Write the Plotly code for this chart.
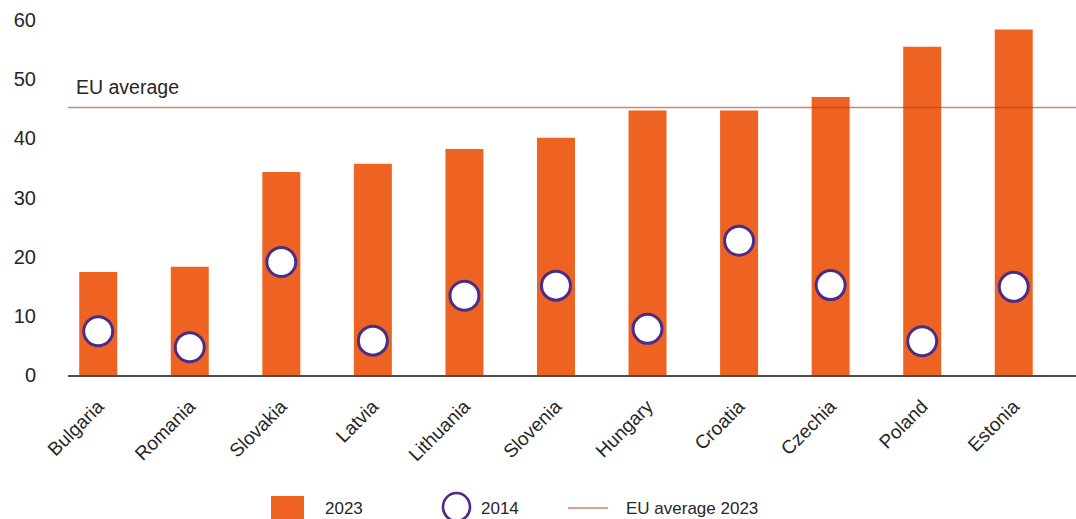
import plotly.graph_objects as go

# Country shares, 2023 (bars) and 2014 (circles)
countries = ["Bulgaria", "Romania", "Slovakia", "Latvia", "Lithuania", "Slovenia",
             "Hungary", "Croatia", "Czechia", "Poland", "Estonia"]
values_2023 = [17.4, 18.3, 34.3, 35.7, 38.2, 40.1, 44.7, 44.7, 47.0, 55.5, 58.4]
values_2014 = [7.4, 4.7, 19.1, 5.8, 13.4, 15.1, 7.8, 22.7, 15.2, 5.7, 14.9]
eu_avg_2023 = 45.2
y_ticks = [0, 10, 20, 30, 40, 50, 60]

ORANGE = "#EE6322"
PURPLE = "#4B2C86"
TEXT = "#262626"
FONT = "Liberation Sans, Arial, sans-serif"

W, H = 1076, 519
ML, MR, MT, MB = 68, 0, 20, 144
PW, PH = W - ML - MR, H - MT - MB


def px_x(px):
    return (px - ML) / PW


def px_y(py):
    return (H - MB - py) / PH


fig = go.Figure()
fig.add_trace(go.Bar(
    x=countries, y=values_2023, name="2023",
    marker=dict(color=ORANGE, line=dict(width=0)),
    width=0.415, showlegend=False, hoverinfo="x+y",
))
fig.add_trace(go.Scatter(
    x=countries, y=values_2014, name="2014", mode="markers",
    marker=dict(size=29, color="white", line=dict(color=PURPLE, width=3)),
    showlegend=False, cliponaxis=False,
))

shapes = [
    # EU average reference line
    dict(type="line", xref="paper", yref="y", x0=0, x1=1,
         y0=eu_avg_2023, y1=eu_avg_2023,
         line=dict(color="rgba(175,62,30,0.62)", width=1.6), layer="above"),
    # legend keys
    dict(type="rect", xref="paper", yref="paper",
         x0=px_x(271), x1=px_x(304), y0=px_y(530), y1=px_y(496),
         fillcolor=ORANGE, line=dict(width=0)),
    dict(type="circle", xref="paper", yref="paper",
         x0=px_x(443), x1=px_x(470), y0=px_y(521), y1=px_y(493),
         fillcolor="white", line=dict(color=PURPLE, width=2.6)),
    dict(type="line", xref="paper", yref="paper",
         x0=px_x(568), x1=px_x(608), y0=px_y(508), y1=px_y(508),
         line=dict(color="#D27E66", width=1.4)),
]

annotations = [
    dict(text="EU average", xref="paper", yref="y", x=px_x(74), y=48.6,
         xanchor="left", yanchor="middle", showarrow=False,
         font=dict(size=19.5, color=TEXT, family=FONT)),
    dict(text="2023", xref="paper", yref="paper", x=px_x(323), y=px_y(508),
         xanchor="left", yanchor="middle", showarrow=False,
         font=dict(size=17, color=TEXT, family=FONT)),
    dict(text="2014", xref="paper", yref="paper", x=px_x(479), y=px_y(508),
         xanchor="left", yanchor="middle", showarrow=False,
         font=dict(size=17, color=TEXT, family=FONT)),
    dict(text="EU average 2023", xref="paper", yref="paper", x=px_x(624), y=px_y(508),
         xanchor="left", yanchor="middle", showarrow=False,
         font=dict(size=17, color=TEXT, family=FONT)),
]

fig.update_layout(
    width=W, height=H,
    margin=dict(l=ML, r=MR, t=MT, b=MB, autoexpand=False),
    paper_bgcolor="white", plot_bgcolor="white",
    font=dict(family=FONT, color=TEXT, size=17),
    showlegend=False,
    shapes=shapes,
    annotations=annotations,
    xaxis=dict(
        range=[-0.33, 10.68], showgrid=False, zeroline=False,
        showline=True, linecolor="#4d4d4d", linewidth=1.6,
        ticks="", tickangle=-45, tickfont=dict(size=19, color=TEXT),
        ticklabelstandoff=11,
    ),
    yaxis=dict(
        range=[0, 60], tickvals=y_ticks, showgrid=False, zeroline=False,
        showline=False, ticks="", tickfont=dict(size=20, color=TEXT),
        ticklabelstandoff=31,
    ),
)

fig.write_html("out.html")
